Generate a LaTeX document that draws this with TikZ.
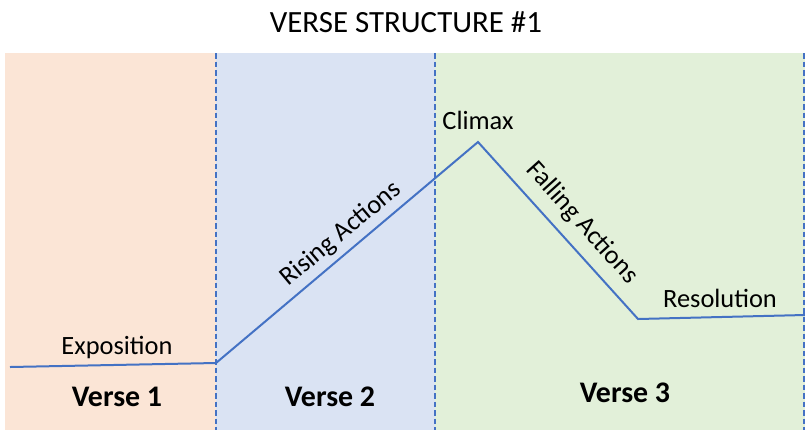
\documentclass[tikz,border=0pt]{standalone}
\usepackage{fontspec}
\setmainfont{Carlito}
\definecolor{peach}{HTML}{FBE5D6}
\definecolor{paleblue}{HTML}{DAE3F3}
\definecolor{palegreen}{HTML}{E2F0D9}
\definecolor{officeblue}{HTML}{4472C4}
\begin{document}
\begin{tikzpicture}[x=1bp,y=-1bp,
  lbl/.style={font=\fontsize{26.5}{30}\selectfont, inner sep=0pt},
  verse/.style={font=\bfseries\fontsize{30}{34}\selectfont, inner sep=0pt},
  divider/.style={officeblue, line width=1.6bp, dash pattern=on 5.5bp off 3bp},
  plot/.style={officeblue, line width=2bp, line join=miter}]
\useasboundingbox (0,0) rectangle (805,430);
\fill[white] (0,0) rectangle (805,430);
\fill[peach] (5,53) rectangle (216,430);
\fill[paleblue] (216,53) rectangle (435,430);
\fill[palegreen] (435,53) rectangle (805,430);
\draw[divider] (216,53) -- (216,430);
\draw[divider] (435,53) -- (435,430);
\draw[divider] (804,53) -- (804,430);
\node[font=\fontsize{31}{35}\selectfont, inner sep=0pt] (title) at (406,22) {VERSE STRUCTURE \#1};
\coordinate (p0) at (10,367);
\coordinate (p1) at (216,363);
\coordinate (p2) at (478,142);
\coordinate (p3) at (638,319);
\coordinate (p4) at (805,315);
\draw[plot] (p0) -- (p1) -- (p2) -- (p3) -- (p4);
\node[lbl] (expo) at (117,347) {Exposition};
\node[lbl, rotate=40] (rising) at (341,234) {Rising Actions};
\node[lbl] (climax) at (478,120) {Climax};
\node[lbl, rotate=-48] (falling) at (582,223) {Falling Actions};
\node[lbl] (resol) at (720,298) {Resolution};
\node[verse] (v1) at (117,397) {Verse 1};
\node[verse] (v2) at (330,397) {Verse 2};
\node[verse] (v3) at (625,393) {Verse 3};
\end{tikzpicture}
\end{document}
